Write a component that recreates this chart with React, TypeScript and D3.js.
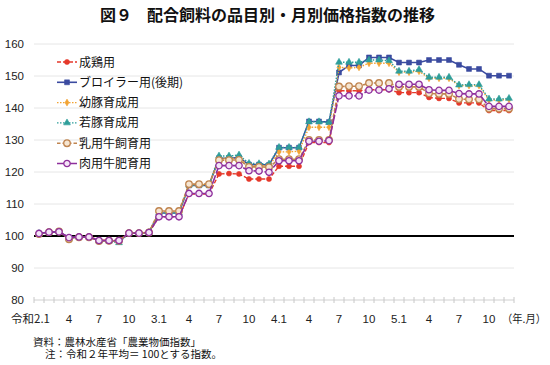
import React from 'react';
import * as d3 from 'd3';

// ---- Data ----
const years = ['2', '3', '4', '5'];
const monthsOfYear = ['1','2','3','4','5','6','7','8','9','10','11','12'];
const categories = years.flatMap((yy) => monthsOfYear.map((m) => `${yy}.${m}`));

const tickLabels = ['令和2.1','4','7','10','3.1','4','7','10','4.1','4','7','10','5.1','4','7','10'];
const tickIndexes = [0,3,6,9,12,15,18,21,24,27,30,33,36,39,42,45];
const yTicks = [80, 90, 100, 110, 120, 130, 140, 150, 160];

const seiKei = [
  100.7,101.1,101.3,99.5,99.8,99.8,98.7,98.7,98.7,100.9,100.9,101.1,
  106.0,106.0,106.0,113.1,113.1,113.1,119.4,119.5,119.4,117.8,117.8,117.8,
  121.8,121.8,121.8,129.2,129.2,129.2,145.4,145.4,145.4,145.7,145.7,145.7,
  144.8,144.8,144.8,143.3,143.0,143.0,141.6,141.6,141.6,139.2,139.2,139.2,
];
const broiler = [
  100.8,101.2,101.3,99.5,99.7,99.7,98.5,98.5,98.3,100.9,100.9,101.1,
  107.2,107.2,107.2,115.8,115.8,115.8,124.3,124.3,124.5,122.3,122.3,122.2,
  127.6,127.6,127.6,135.8,135.8,135.6,151.1,153.3,153.3,155.8,155.8,155.8,
  154.2,154.2,154.2,155.0,155.0,155.0,153.5,152.2,152.2,150.1,150.1,150.1,
];
const youton = [
  100.7,101.2,101.4,99.2,99.7,99.7,98.5,98.5,98.4,100.9,100.9,101.2,
  107.6,107.6,107.6,116.0,116.0,116.0,124.2,124.2,124.3,122.0,122.0,121.9,
  126.3,126.3,126.5,134.0,134.0,134.0,152.7,152.5,152.7,154.0,154.0,154.0,
  151.2,151.2,151.5,149.3,149.3,149.3,147.0,147.0,147.0,142.5,142.5,142.7,
];
const jakuton = [
  100.8,101.2,101.3,99.3,99.7,99.7,98.5,98.4,97.9,100.9,100.9,101.1,
  107.2,107.2,107.2,115.9,115.9,115.9,125.0,125.0,125.3,122.7,122.6,122.5,
  127.7,127.7,127.7,135.7,135.7,135.5,154.3,154.3,154.3,155.0,155.0,154.8,
  151.5,151.5,152.0,149.6,149.6,149.6,147.2,147.3,147.3,142.8,142.8,143.0,
];
const nyuyou = [
  100.6,101.2,101.4,99.0,99.6,99.6,98.4,98.5,98.5,100.9,100.9,101.1,
  107.8,107.8,107.8,116.2,116.2,116.2,123.7,123.7,123.8,121.6,121.6,121.5,
  124.0,124.0,124.0,130.0,130.0,130.0,146.7,146.8,146.8,147.8,147.8,147.8,
  146.6,146.6,146.6,144.6,144.4,144.4,142.8,142.7,142.7,139.8,139.8,139.8,
];
const nikuyou = [
  100.8,101.2,101.3,99.5,99.7,99.7,98.6,98.6,98.6,100.9,100.9,101.1,
  106.0,106.0,106.0,113.3,113.3,113.3,122.0,122.0,122.0,120.4,120.3,119.9,
  123.5,123.5,123.5,129.6,129.6,129.8,143.8,143.8,143.8,145.6,145.6,146.0,
  147.4,147.4,147.4,145.7,145.5,145.5,144.5,144.4,144.4,140.5,140.5,140.5,
];

const seriesNames = ['成鶏用','ブロイラー用(後期)','幼豚育成用','若豚育成用','乳用牛飼育用','肉用牛肥育用'];
const seriesValues = [seiKei, broiler, youton, jakuton, nyuyou, nikuyou];

// ---- Styles ----
const styles = [
  { color: '#E5392B', dash: '4,2', width: 1.4, symbol: d3.symbolCircle, size: 20, fill: '#E5392B' },
  { color: '#3B4BA0', dash: null, width: 1.6, symbol: d3.symbolSquare, size: 24, fill: '#3B4BA0' },
  { color: '#F2A332', dash: '1.5,1.5', width: 1.4, symbol: d3.symbolDiamond, size: 14, fill: '#F2A332' },
  { color: '#2E9E9A', dash: '1.5,1.5', width: 1.4, symbol: d3.symbolTriangle, size: 20, fill: '#2E9E9A' },
  { color: '#C08550', dash: '3.5,2', width: 1.6, symbol: d3.symbolCircle, size: 34, fill: '#F6E6D2' },
  { color: '#8E2F9C', dash: '9,2', width: 1.6, symbol: d3.symbolCircle, size: 32, fill: '#F4E4F6' },
];

const W = 550;
const H = 365;
const JP = '"Noto Sans CJK JP", sans-serif';
const NUM = '"Liberation Sans", Arial, sans-serif';

export default function App() {
  const x = d3.scaleBand<number>().domain(d3.range(categories.length)).range([34, 514]).paddingInner(0).paddingOuter(0);
  const cx = (i: number) => (x(i) as number) + x.bandwidth() / 2;
  const y = d3.scaleLinear().domain([80, 160]).range([300, 44]);
  const line = d3.line<number>().x((_, i) => cx(i)).y((v) => y(v));
  const boundaries = d3.range(categories.length + 1).map((i) => 34 + i * x.bandwidth());

  return (
    <svg width={W} height={H} style={{ position: 'absolute', left: 0, top: 0, display: 'block', background: '#fff' }}>
      {/* Title */}
      <text x={100} y={21} fontFamily={JP} fontSize={16} fontWeight={700} fill="#111">図９</text>
      <text x={147} y={21} fontFamily={JP} fontSize={16} fontWeight={700} fill="#111">配合飼料の品目別・月別価格指数の推移</text>

      {/* Gridlines */}
      {yTicks.filter((t) => t !== 80 && t !== 100).map((t) => (
        <line key={t} x1={34} x2={514} y1={y(t)} y2={y(t)} stroke="#E6E6E6" strokeWidth={1} />
      ))}
      {/* Y labels */}
      {yTicks.map((t) => (
        <text key={t} x={24} y={y(t) + 4} textAnchor="end" fontFamily={NUM} fontSize={11.5} fill="#222">{t}</text>
      ))}

      {/* X axis */}
      <line x1={34} x2={514} y1={y(80)} y2={y(80)} stroke="#D0D0D0" strokeWidth={1} />
      {boundaries.map((bx, i) => (
        <line key={i} x1={bx} x2={bx} y1={y(80) - 3} y2={y(80) + 3} stroke="#C8C8C8" strokeWidth={1} />
      ))}
      {tickIndexes.map((ti, k) => (
        <text key={k} x={k === 0 ? cx(ti) + 11 : cx(ti)} y={323} textAnchor={k === 0 ? 'end' : 'middle'}
          fontFamily={k === 0 ? JP : NUM} fontSize={11.5} fill="#222">{tickLabels[k]}</text>
      ))}
      <text x={502} y={323} fontFamily={JP} fontSize={11} textLength={44} lengthAdjust="spacingAndGlyphs" fill="#222">（年.月）</text>

      {/* 100 baseline */}
      <line x1={34} x2={514} y1={y(100)} y2={y(100)} stroke="#000" strokeWidth={1.8} />

      {/* Series */}
      {seriesValues.map((vals, s) => {
        const st = styles[s];
        const sym = d3.symbol().type(st.symbol).size(st.size)();
        return (
          <g key={s}>
            <path d={line(vals) || ''} fill="none" stroke={st.color} strokeWidth={st.width}
              strokeDasharray={st.dash || undefined} />
            {vals.map((v, i) => (
              <path key={i} d={sym || ''} transform={`translate(${cx(i)},${y(v)})`} fill={st.fill}
                stroke={st.color} strokeWidth={s >= 4 ? 1.3 : 0.6} />
            ))}
          </g>
        );
      })}

      {/* Legend */}
      {seriesNames.map((name, s) => {
        const st = styles[s];
        const ly = 62 + s * 20.3;
        const sym = d3.symbol().type(st.symbol).size(st.size)();
        return (
          <g key={name}>
            <line x1={57} x2={77} y1={ly} y2={ly} stroke={st.color} strokeWidth={st.width}
              strokeDasharray={st.dash || undefined} />
            <path d={sym || ''} transform={`translate(67,${ly})`} fill={st.fill} stroke={st.color}
              strokeWidth={s >= 4 ? 1.3 : 0.6} />
            <text x={79} y={ly + 4.5} fontFamily={JP} fontSize={12} fill="#111">{name}</text>
          </g>
        );
      })}

      {/* Notes */}
      <text x={33} y={345.5} fontFamily={JP} fontSize={10.5} fill="#111">資料：農林水産省「農業物価指数」</text>
      <text x={45} y={358} fontFamily={JP} fontSize={10.5} fill="#111">注：令和２年平均＝ 100とする指数。</text>
    </svg>
  );
}
